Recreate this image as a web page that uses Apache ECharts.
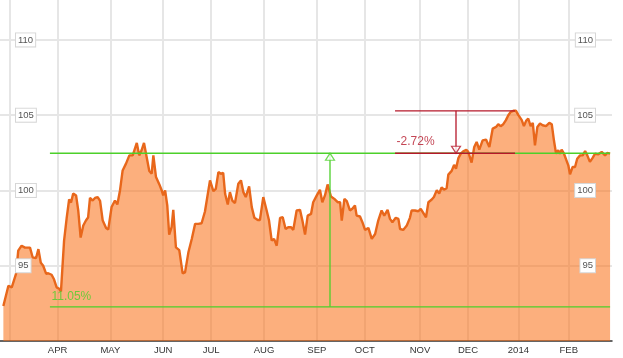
<!DOCTYPE html>
<html>
<head>
<meta charset="utf-8">
<script src="https://cdn.jsdelivr.net/npm/echarts@6/dist/echarts.min.js"></script>
<style>
html,body{margin:0;padding:0;background:#fff;}
#chart{width:623px;height:358px;}
</style>
</head>
<body>
<div id="chart"></div>
<script>
// x = trading days since 1 Apr 2013
const days = [-22.6,-20.5,-19.1,-17.3,-16.4,-15.0,-13.6,-11.5,-10.4,-9.0,-8.0,-7.0,-6.0,-4.8,-3.9,-2.5,-1.5,-0.4,0.7,1.4,
2.7,3.8,4.8,5.6,6.5,7.7,8.6,9.6,10.7,11.8,12.7,13.5,14.6,15.6,16.7,17.7,18.8,20.2,21.1,22.5,
23.9,24.9,26.0,27.1,28.5,29.9,31.3,33.0,34.0,35.0,36.0,37.1,38.2,39.2,39.9,41.0,42.4,43.4,44.0,44.8,
45.7,46.5,47.5,48.2,49.3,50.7,52.1,53.1,54.5,55.9,57.3,58.6,60.0,61.4,63.5,64.9,65.9,67.0,68.0,69.0,
69.8,70.9,71.8,72.8,73.9,75.3,76.4,77.4,78.4,79.8,80.9,82.0,83.4,84.3,85.7,87.1,88.1,89.2,90.2,91.3,
92.7,93.8,95.0,96.1,97.3,98.2,99.6,101.0,102.0,103.1,104.2,105.6,106.5,108.0,109.3,110.3,111.4,112.5,113.9,115.3,
116.7,117.7,118.4,119.5,120.5,121.8,122.8,123.9,124.6,126.0,127.0,128.1,129.5,130.9,132.3,133.6,135.0,136.1,137.5,138.5,
139.5,140.9,142.0,142.7,144.0,145.5,146.8,147.5,148.9,150.3,151.3,153.5,154.5,155.9,156.8,158.0,159.0,160.0,161.0,162.1,
162.8,164.2,165.2,166.0,167.0,168.0,169.0,170.3,171.1,172.5,173.6,174.6,175.7,177.1,178.5,179.9,181.3,182.7,183.6,184.6,
185.7,186.8,187.8,188.8,189.9,191.0,192.0,193.4,194.3,195.2,196.1,197.1,198.0,198.9,199.9,201.0,202.1,203.5,204.9,205.9,
206.8,207.7,208.6,209.3,210.0,211.0,211.8,212.8,213.5,214.6,215.6,216.5,217.7,218.8,219.8,220.7,221.8,223.0,223.9,225.3,
226.7,228.1,229.0,230.2];
const prices = [92.33,93.67,93.56,94.47,96.0,96.33,96.2,96.2,95.56,95.5,96.1,95.2,95.0,94.47,94.5,94.4,94.1,93.56,93.47,93.3,
96.67,98.2,99.4,99.2,99.8,99.67,98.67,96.87,97.67,98.0,98.2,99.5,99.33,99.5,99.56,99.3,98.0,97.5,97.4,98.9,
99.33,99.07,100.0,101.33,101.78,102.33,102.33,103.16,102.33,102.67,103.16,102.22,101.29,101.11,102.33,100.89,100.4,100.0,99.67,100.0,
99.0,97.07,97.56,98.71,96.22,96.04,94.49,94.56,95.89,96.78,97.78,97.78,97.82,98.6,100.67,99.96,100.1,101.22,101.11,101.16,
99.78,99.07,99.89,99.33,99.16,100.44,100.67,99.89,99.56,100.27,98.89,98.18,98.04,98.04,99.56,98.67,98.0,96.67,96.78,96.33,
98.18,98.22,97.44,97.56,97.56,97.38,98.67,98.71,98.0,97.07,98.33,98.44,99.22,99.67,100.04,99.22,99.67,100.4,99.6,99.44,
99.22,99.22,98.0,99.44,99.29,98.67,98.78,99.0,98.33,98.27,97.89,97.38,97.51,96.78,97.11,98.0,98.67,98.33,98.71,98.11,
97.89,98.18,98.11,97.44,97.38,97.67,98.18,98.67,98.67,98.62,98.78,98.22,99.22,99.4,99.56,100.02,99.8,100.2,100.05,100.15,
101.05,101.3,101.7,101.45,102.15,102.45,102.6,102.7,102.56,101.85,102.89,103.22,102.71,103.33,103.38,102.89,104.11,104.22,104.4,104.27,
104.4,104.67,105.0,105.22,105.29,105.29,105.0,104.67,104.27,104.62,104.78,104.27,104.49,103.0,104.22,104.44,104.33,104.27,104.49,104.4,
103.33,102.44,102.67,102.44,102.71,102.44,102.56,101.67,101.07,101.56,101.56,102.11,102.33,102.33,102.62,102.33,101.9,102.18,102.44,102.4,
102.56,102.33,102.49,102.44];

const monthDays = [0,22,44,64,86,108,128,151,171,192,213];
const monthLabels = ['APR','MAY','JUN','JUL','AUG','SEP','OCT','NOV','DEC','2014','FEB'];
const gridDays = [-20,0,22,44,64,86,108,128,151,171,192,213];
const yTicks = [95,100,105,110];

// annotations
const gainLow = 92.27, gainHigh = 102.47, gainFrom = -3.2, gainTo = 230.2, gainArrowDay = 113.5, gainText = '11.05%';
const dropPeak = 105.29, dropFrom = 140.6, dropTo = 190.6, dropArrowDay = 166.0, dropText = '-2.72%';

const GREEN = '#4cd02a', RED = '#b5182a';
const FONT = 'Arial, "Liberation Sans", sans-serif';
const Y_MIN = 90, Y_MAX = 112.65;

function seg(data, color, z) {
  return {type:'line', data:data, symbol:'none', silent:true, z:z || 5,
    lineStyle:{color:color, width:1.3}, animation:false};
}

const chart = echarts.init(document.getElementById('chart'), null, {renderer:'canvas'});
const priceData = days.map((d,i)=>[d, prices[i]]);

const labelAxis = (pos, margin)=>({type:'value', position:pos, min:Y_MIN, max:Y_MAX, z:20, offset:0,
  axisLine:{show:false}, axisTick:{show:false, customValues:yTicks}, splitLine:{show:false},
  axisLabel:{inside:true, customValues:yTicks, margin:margin, color:'#555', fontSize:9.5, fontFamily:FONT,
    backgroundColor:'#fff', borderColor:'#d6d6d6', borderWidth:1, padding:[2,2,1,2]}});

chart.setOption({
  animation:false,
  grid:{left:0, right:11, top:0, bottom:17, containLabel:false},
  xAxis:{type:'value', min:-24, max:231,
    axisLine:{show:true, onZero:false, lineStyle:{color:'#333', width:1.5}},
    axisTick:{show:false, customValues:gridDays},
    splitLine:{show:true, lineStyle:{color:'#e6e6e6', width:2}},
    axisLabel:{customValues:monthDays, margin:4, color:'#333', fontSize:9.5, fontFamily:FONT,
      formatter:(v)=>{const i = monthDays.indexOf(v); return i>=0 ? monthLabels[i] : '';}}
  },
  yAxis:[
    {type:'value', position:'left', min:Y_MIN, max:Y_MAX,
      axisLine:{show:false}, axisTick:{show:false, customValues:yTicks}, axisLabel:{show:false},
      splitLine:{show:true, lineStyle:{color:'#e6e6e6', width:2}}},
    labelAxis('left', 16),
    labelAxis('right', 17)
  ],
  series:[
    {type:'line', data:priceData, symbol:'none', z:2,
      lineStyle:{color:'#e8671b', width:2.4},
      areaStyle:{origin:'start', color:'rgb(250,112,24)', opacity:0.56}},
    seg([[gainFrom,gainHigh],[gainTo,gainHigh]], GREEN),
    seg([[gainFrom,gainLow],[gainTo,gainLow]], GREEN),
    seg([[gainArrowDay,gainLow],[gainArrowDay,gainHigh]], GREEN),
    seg([[dropFrom,dropPeak],[dropTo,dropPeak]], RED, 6),
    seg([[dropFrom,gainHigh],[dropTo,gainHigh]], RED, 6),
    seg([[dropArrowDay,dropPeak],[dropArrowDay,gainHigh]], RED, 6),
    {type:'scatter', silent:true, z:8, animation:false,
      data:[[gainArrowDay,gainHigh]], symbol:'triangle', symbolSize:[9,7], symbolOffset:[0,'50%'],
      itemStyle:{color:'#fff', borderColor:GREEN, borderWidth:1.2}},
    {type:'scatter', silent:true, z:8, animation:false,
      data:[[dropArrowDay,gainHigh]], symbol:'triangle', symbolSize:[9,7], symbolRotate:180, symbolOffset:[0,'-50%'],
      itemStyle:{color:'#fff', borderColor:RED, borderWidth:1.2}},
    {type:'scatter', silent:true, z:9, animation:false,
      data:[[gainFrom,gainLow]], symbolSize:1, itemStyle:{color:'transparent'},
      label:{show:true, formatter:gainText, position:[2,-16], color:GREEN, fontSize:12, fontFamily:FONT}},
    {type:'scatter', silent:true, z:9, animation:false,
      data:[[dropFrom,gainHigh]], symbolSize:1, itemStyle:{color:'transparent'},
      label:{show:true, formatter:dropText, position:[2,-17], color:RED, fontSize:12, fontFamily:FONT}}
  ]
});
</script>
</body>
</html>
